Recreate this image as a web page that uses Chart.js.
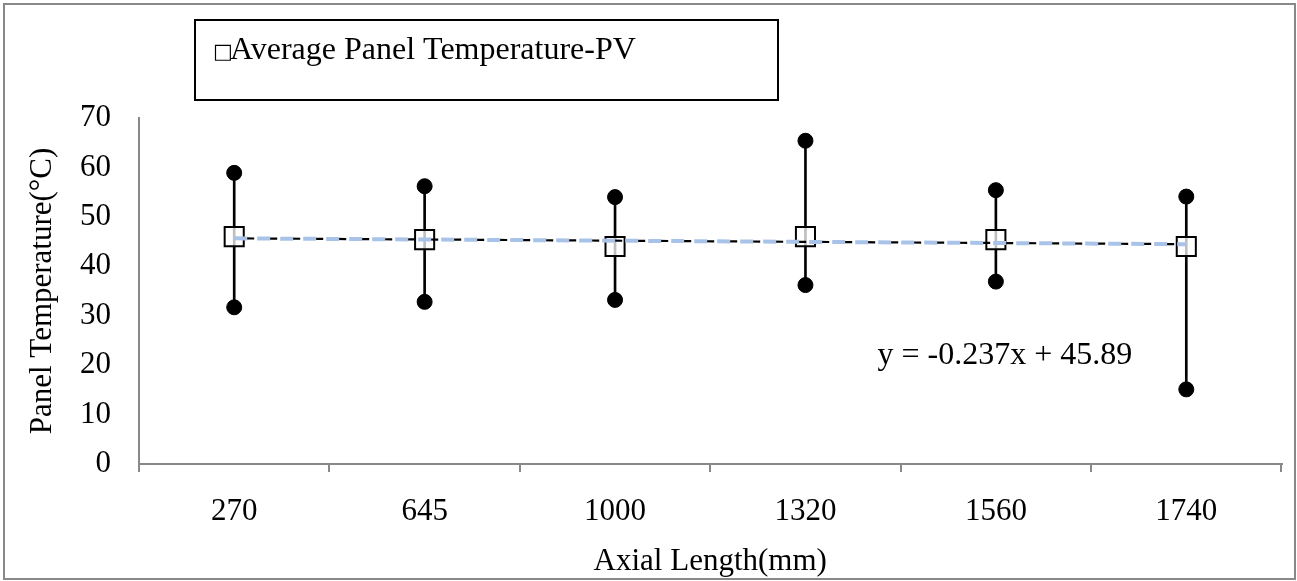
<!DOCTYPE html>
<html>
<head>
<meta charset="utf-8">
<script src="https://cdn.jsdelivr.net/npm/chart.js@4.4.1/dist/chart.umd.min.js"></script>
<style>
  body { margin: 0; background: #fff; }
</style>
</head>
<body>
<canvas id="panelTemp" width="1297" height="581"></canvas>
<script>
const lengths = ['270', '645', '1000', '1320', '1560', '1740'];
const avgTemp = [46.0, 45.4, 44.0, 46.0, 45.4, 44.0];
const maxTemp = [58.9, 56.2, 54.0, 65.4, 55.4, 54.1];
const minTemp = [31.7, 32.8, 33.2, 36.2, 36.9, 15.1];
const trendTemp = [45.65, 45.42, 45.18, 44.94, 44.71, 44.47];
const yTicks = [0, 10, 20, 30, 40, 50, 60, 70];

const serif = 'Liberation Serif, Times New Roman, serif';
const axisGray = '#898989';

// frame, legend box and trend equation
const extras = {
  id: 'extras',
  beforeDraw(chart) {
    const c = chart.ctx;
    c.save();
    c.fillStyle = '#fff';
    c.fillRect(0, 0, chart.width, chart.height);
    c.strokeStyle = axisGray;
    c.lineWidth = 2;
    c.strokeRect(4, 4, 1291, 575);
    c.restore();
  },
  afterDraw(chart) {
    const c = chart.ctx;
    c.save();
    c.strokeStyle = '#000';
    c.lineWidth = 2;
    c.strokeRect(195, 20, 583, 80);
    c.fillStyle = '#000';
    c.textBaseline = 'alphabetic';
    c.font = '21px DejaVu Sans, sans-serif';
    c.fillText('\u25A1', 213, 58);
    c.font = '32px ' + serif;
    c.fillText('Average Panel Temperature-PV', 230, 59);
    const x = chart.scales.x.getPixelForValue(4);
    const y = chart.scales.y.getPixelForValue(22);
    c.textAlign = 'center';
    c.textBaseline = 'middle';
    c.fillText('y = -0.237x + 45.89', x + 9, y);
    c.restore();
  }
};

new Chart(document.getElementById('panelTemp'), {
  type: 'bar',
  data: {
    labels: lengths,
    datasets: [
      {
        label: 'trend',
        type: 'line',
        data: trendTemp,
        borderColor: '#000',
        borderWidth: 2.2,
        borderDash: [10, 13],
        borderDashOffset: 13,
        pointRadius: 0,
        order: 1
      },
      {
        label: 'trend-blue',
        type: 'line',
        data: trendTemp,
        borderColor: '#a9c3e8',
        borderWidth: 4,
        borderDash: [13, 10],
        pointRadius: 0,
        order: 0
      },
      {
        label: 'Average Panel Temperature-PV',
        type: 'line',
        data: avgTemp,
        showLine: false,
        pointStyle: 'rect',
        pointRadius: 13.5,
        pointBorderWidth: 2,
        pointBorderColor: '#000',
        pointBackgroundColor: 'rgba(255,255,255,0.75)',
        order: 2
      },
      {
        label: 'max',
        type: 'line',
        data: maxTemp,
        showLine: false,
        pointRadius: 7.5,
        pointBackgroundColor: '#000',
        pointBorderColor: '#000',
        order: 3
      },
      {
        label: 'min',
        type: 'line',
        data: minTemp,
        showLine: false,
        pointRadius: 7.5,
        pointBackgroundColor: '#000',
        pointBorderColor: '#000',
        order: 3
      },
      {
        label: 'range',
        data: minTemp.map((v, i) => [v, maxTemp[i]]),
        backgroundColor: '#000',
        barThickness: 2,
        order: 4
      }
    ]
  },
  options: {
    responsive: false,
    animation: false,
    layout: { padding: { left: 0, top: 118, right: 13, bottom: 0 } },
    plugins: { legend: { display: false }, tooltip: { enabled: false } },
    scales: {
      x: {
        offset: true,
        grid: { offset: true, drawOnChartArea: false, drawTicks: true, tickLength: 8, color: axisGray, lineWidth: 2 },
        border: { color: axisGray, width: 2 },
        ticks: { color: '#000', font: { family: serif, size: 31 }, padding: 21, maxRotation: 0 },
        title: { display: true, text: 'Axial Length(mm)', color: '#000', font: { family: serif, size: 31 }, padding: { top: 0, bottom: 1 } },
        afterFit: s => { s.height = 117; }
      },
      y: {
        min: 0,
        max: 70,
        afterBuildTicks: s => { s.ticks = yTicks.map(v => ({ value: v })); },
        grid: { display: true, drawOnChartArea: false, drawTicks: false },
        border: { color: axisGray, width: 2 },
        ticks: { color: '#000', font: { family: serif, size: 31 }, padding: 28 },
        title: { display: true, text: 'Panel Temperature(\u00B0C)', color: '#000', font: { family: serif, size: 31 }, padding: { top: 24, bottom: 0 } },
        afterFit: s => { s.width = 139; }
      }
    }
  },
  plugins: [extras]
});
</script>
</body>
</html>
